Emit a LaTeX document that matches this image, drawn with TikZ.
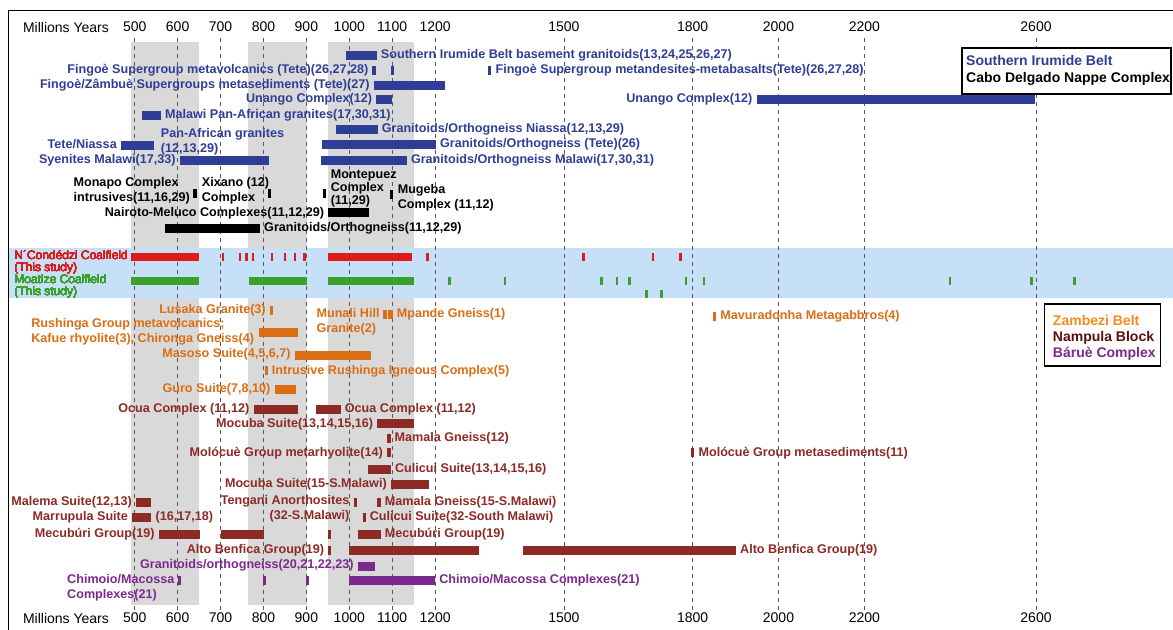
\documentclass[tikz,border=0pt]{standalone}
\usepackage{fontspec}
\setmainfont{Liberation Sans}
\definecolor{sib}{RGB}{46,62,150}
\definecolor{zam}{RGB}{218,110,20}
\definecolor{zamL}{RGB}{247,140,30}
\definecolor{nam}{RGB}{140,42,36}
\definecolor{namL}{RGB}{90,15,15}
\definecolor{baru}{RGB}{125,40,140}
\definecolor{ncr}{RGB}{225,25,25}
\definecolor{moa}{RGB}{60,160,45}
\definecolor{bandblue}{RGB}{198,225,247}
\definecolor{gband}{RGB}{217,217,217}
\newcommand\gb[4]{\fill[#1] (#2,{#4-4.5}) rectangle (#3,{#4+4.5});}
\newcommand\cb[4]{\fill[#1] (#2,{#4-4}) rectangle (#3,{#4+4});}
\newcommand\tk[3]{\fill[#1] ({#2-3},{#3-4}) rectangle ({#2+3},{#3+4});}
\tikzset{
  lab/.style={font=\fontsize{12.6}{15}\selectfont\bfseries, inner sep=0pt},
  lw/.style={lab, anchor=west, xshift=4pt},
  le/.style={lab, anchor=east, xshift=-4pt},
  ax/.style={font=\fontsize{14}{16}\selectfont, inner sep=0pt},
  coal/.style={font=\fontsize{12}{12}\selectfont, inner sep=0pt, align=left, anchor=west},
  gridline/.style={dash pattern=on 4pt off 4pt, line width=0.7pt, black!65},
  legA/.style={font=\fontsize{14}{16}\selectfont\bfseries, inner sep=0pt, anchor=west},
  legB/.style={font=\fontsize{14}{16}\selectfont\bfseries, inner sep=0pt, anchor=west}
}
\begin{document}
\begin{tikzpicture}[x=0.4292pt,y=-1pt]
\useasboundingbox (186.16,0) rectangle (2919.2,630);
\fill[white] (186.16,0) rectangle (2919.2,630);
% gray bands
\fill[gband] (492,42) rectangle (650,605);
\fill[gband] (765,42) rectangle (902,605);
\fill[gband] (950,42) rectangle (1150,605);
% coalfield band
\fill[bandblue] (205.7,248) rectangle (2919.2,298);
% dashed grid
\foreach \v in {500,600,700,800,900,1000,1100,1200,1500,1800,2000,2200,2600}
  \draw[gridline] (\v,38) -- (\v,610);
% frame
\draw[line width=1.5pt] (205.7,630) -- (205.7,10.5) -- (2919.2,10.5);
% axis labels
\node[ax] (mytop) at (339.9,27) {Millions Years};
\node[ax] (mybot) at (339.9,618) {Millions Years};
\foreach \v in {500,600,700,800,900,1000,1100,1200,1500,1800,2000,2200,2600}{
  \node[ax] (top\v) at (\v,27) {\v};
  \node[ax] (bot\v) at (\v,618) {\v};
}
% ---- Southern Irumide Belt (blue)
\gb{sib}{992}{1064}{55}
\node[lw,sib] (s1) at (1064,55) {Southern Irumide Belt basement granitoids(13,24,25,26,27)};
\gb{sib}{1054}{1062}{70.5}
\gb{sib}{1096}{1104}{70.5}
\node[le,sib] (s2) at (1054,70.5) {Fingoè Supergroup metavolcanics (Tete)(26,27,28)};
\gb{sib}{1323}{1331}{70.5}
\node[lw,sib] (s3) at (1331,70.5) {Fingoè Supergroup metandesites-metabasalts(Tete)(26,27,28)};
\gb{sib}{1057}{1222}{85.3}
\node[le,sib] (s4) at (1057,85.3) {Fingoè/Zâmbuè Supergroups metasediments (Tete)(27)};
\gb{sib}{1063}{1099}{99.3}
\node[le,sib] (s5) at (1063,99.3) {Unango Complex(12)};
\gb{sib}{1949}{2597}{99.3}
\node[le,sib] (s6) at (1949,99.3) {Unango Complex(12)};
\gb{sib}{518}{561}{115.3}
\node[lw,sib] (s7) at (561,115.3) {Malawi Pan-African granites(17,30,31)};
\gb{sib}{968}{1066}{129.5}
\node[lw,sib] (s8) at (1066,129.5) {Granitoids/Orthogneiss Niassa(12,13,29)};
\gb{sib}{468}{545}{145}
\node[le,sib] (s9) at (468,144) {Tete/Niassa};
\node[lab,sib,align=left,anchor=west] (s10) at (560.6,141.5) {Pan-African granites\\(12,13,29)};
\gb{sib}{937}{1202}{144}
\node[lw,sib] (s11) at (1202,144) {Granitoids/Orthogneiss (Tete)(26)};
\gb{sib}{605}{813}{160}
\node[le,sib] (s12) at (605,160) {Syenites Malawi(17,33)};
\gb{sib}{934}{1134}{160}
\node[lw,sib] (s13) at (1134,160) {Granitoids/Orthogneiss Malawi(17,30,31)};
% ---- Cabo Delgado (black)
\gb{black}{636}{644}{193}
\node[lab,align=left,anchor=east,xshift=-3pt] (c1) at (636,190.3) {Monapo Complex\\intrusives(11,16,29)};
\gb{black}{810}{818}{193}
\node[lab,align=left,anchor=west] (c2) at (656.1,190.3) {Xixano (12)\\Complex};
\gb{black}{939}{946}{193}
\node[lab,align=left,anchor=west,font=\fontsize{12.6}{13}\selectfont\bfseries] (c3) at (956.4,188) {Montepuez\\Complex\\(11,29)};
\gb{black}{1095}{1102}{194.5}
\node[lab,align=left,anchor=west] (c4) at (1112.5,197.3) {Mugeba\\Complex (11,12)};
\gb{black}{951}{1046}{212.5}
\node[le] (c5) at (951,213) {Nairoto-Meluco Complexes(11,12,29)};
\gb{black}{570}{792}{228.5}
\node[lw] (c6) at (792,228.5) {Granitoids/Orthogneiss(11,12,29)};
% ---- coalfields
\cb{ncr}{492}{650}{257}
\cb{ncr}{950}{1147}{257}
\foreach \a in {706,745,760,776,820,850,873,896,1182,1546,1708,1772}
  \tk{ncr}{\a}{257}
\node[coal,ncr] (n1) at (219.3,262) {N´Condédzi Coalfield\\(This study)};
\cb{moa}{492}{650}{281}
\cb{moa}{767}{902}{281}
\cb{moa}{950}{1150}{281}
\foreach \a in {1234,1363,1587,1624,1653,1784,1826,2400,2589,2690}
  \tk{moa}{\a}{281}
\foreach \a in {1693,1728}
  \tk{moa}{\a}{293.5}
\node[coal,moa] (m1) at (219.3,286) {Moatize Coalfield\\(This study)};
% ---- Zambezi Belt (orange)
\gb{zam}{815}{822}{310.5}
\node[le,zam] (z1) at (815,310) {Lusaka Granite(3)};
\gb{zam}{790}{881}{332}
\node[lab,zam,align=left,anchor=east,xshift=-5pt] (z2) at (790,331.8) {Rushinga Group metavolcanics;\\Kafue rhyolite(3), Chironga Gneiss(4)};
\gb{zam}{1078}{1087}{314.7}
\gb{zam}{1091}{1101}{314.7}
\node[lab,zam,align=left,anchor=east,xshift=-3pt] (z3) at (1078,321.6) {Munali Hill\\Granite(2)};
\node[lw,zam] (z4) at (1101,314.5) {Mpande Gneiss(1)};
\gb{zam}{873}{1051}{355.5}
\node[le,zam] (z5) at (873,354.5) {Masoso Suite(4,5,6,7)};
\gb{zam}{803}{810}{370.8}
\node[lw,zam] (z6) at (810,370.8) {Intrusive Rushinga Igneous Complex(5)};
\gb{zam}{826}{875}{389}
\node[le,zam] (z7) at (826,389) {Guro Suite(7,8,10)};
\gb{zam}{1847}{1855}{316}
\node[lw,zam] (z8) at (1855,316) {Mavuradonha Metagabbros(4)};
% ---- Nampula Block (dark red)
\gb{nam}{777}{880}{409.5}
\node[le,nam] (p1) at (777,409.3) {Ocua Complex (11,12)};
\gb{nam}{922}{980}{409.5}
\node[lw,nam] (p2) at (980,409.3) {Ocua Complex (11,12)};
\gb{nam}{1065}{1150}{423}
\node[le,nam] (p3) at (1065,424) {Mocuba Suite(13,14,15,16)};
\gb{nam}{1088}{1096}{438}
\node[lw,nam] (p4) at (1096,438) {Mamala Gneiss(12)};
\gb{nam}{1088}{1097}{452.7}
\node[le,nam] (p5) at (1088,452.7) {Molócuè Group metarhyolite(14)};
\gb{nam}{1797}{1804}{452.7}
\node[lw,nam] (p6) at (1804,452.7) {Molócuè Group metasediments(11)};
\gb{nam}{1044}{1097}{469}
\node[lw,nam] (p7) at (1097,469) {Culicui Suite(13,14,15,16)};
\gb{nam}{1097}{1185}{484.7}
\node[le,nam] (p8) at (1097,484.7) {Mocuba Suite(15-S.Malawi)};
\gb{nam}{503}{537}{502.5}
\node[le,nam] (p9) at (503,502) {Malema Suite(12,13)};
\gb{nam}{1010}{1019}{502.5}
\node[lab,nam,align=right,anchor=east,xshift=-4pt] (p10) at (1010,509) {Tengani Anorthosites\\(32-S.Malawi)};
\gb{nam}{1064}{1073}{502.5}
\node[lw,nam] (p11) at (1073,502) {Mamala Gneiss(15-S.Malawi)};
\gb{nam}{494}{539}{517.3}
\node[le,nam] (p12) at (494,517.3) {Marrupula Suite};
\node[lw,nam] (p13) at (539,517.3) {(16,17,18)};
\gb{nam}{1031}{1038}{517.3}
\node[lw,nam] (p14) at (1038,517.3) {Culicui Suite(32-South Malawi)};
\gb{nam}{556}{653}{534}
\gb{nam}{701}{801}{534}
\gb{nam}{951}{958}{534}
\gb{nam}{1020}{1073}{534}
\node[le,nam] (p15) at (556,534) {Mecubúri Group(19)};
\node[lw,nam] (p16) at (1073,534) {Mecubúri Group(19)};
\gb{nam}{951}{958}{550}
\gb{nam}{1000}{1303}{550}
\gb{nam}{1404}{1901}{550}
\node[le,nam] (p17) at (951,550) {Alto Benfica Group(19)};
\node[lw,nam] (p18) at (1901,550) {Alto Benfica Group(19)};
% ---- Barue Complex (purple)
\gb{baru}{1020}{1060}{566}
\node[le,baru] (b1) at (1020,565) {Granitoids/orthogneiss(20,21,22,23)};
\gb{baru}{601}{608}{580}
\gb{baru}{799}{806}{580}
\gb{baru}{898}{905}{580}
\gb{baru}{1000}{1200}{580}
\node[lab,baru,align=left,anchor=west] (b2) at (342.3,587.5) {Chimoio/Macossa\\Complexes(21)};
\node[lw,baru] (b3) at (1200,580) {Chimoio/Macossa Complexes(21)};
% ---- legends
\draw[line width=1.5pt, fill=white] (2427.5,48) rectangle (2914.5,94);
\node[legA,sib] (lg1) at (2436.9,60) {Southern Irumide Belt};
\node[legA] (lg2) at (2436.9,78.7) {Cabo Delgado Nappe Complex};
\draw[line width=1.5pt, fill=white] (2619.7,304) rectangle (2890,366);
\node[legB,zamL] (lg3) at (2639.1,320.7) {Zambezi Belt};
\node[legB,namL] (lg4) at (2639.1,337.7) {Nampula Block};
\node[legB,baru] (lg5) at (2639.1,354) {Báruè Complex};
\end{tikzpicture}
\end{document}
